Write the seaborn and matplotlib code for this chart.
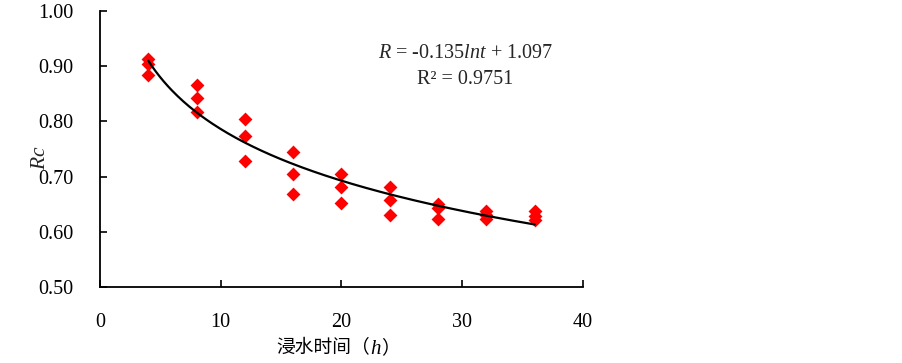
import numpy as np
import pandas as pd
import matplotlib
matplotlib.use("Agg")
import matplotlib.pyplot as plt
import seaborn as sns
from matplotlib.offsetbox import TextArea, HPacker, AnchoredOffsetbox

# Data
hours = [4, 4, 4, 8, 8, 8, 12, 12, 12, 16, 16, 16, 20, 20, 20,
         24, 24, 24, 28, 28, 28, 32, 32, 32, 36, 36, 36]
rc = [0.913, 0.904, 0.884, 0.866, 0.842, 0.817, 0.805, 0.774, 0.729,
      0.744, 0.705, 0.669, 0.705, 0.681, 0.653, 0.681, 0.658, 0.630,
      0.651, 0.644, 0.624, 0.637, 0.630, 0.623, 0.637, 0.629, 0.622]
coef_a = -0.135
coef_b = 1.097
fit_t = np.linspace(4, 36, 200)
fit_r = coef_a * np.log(fit_t) + coef_b

x_ticks = [0, 10, 20, 30, 40]
y_ticks = [0.50, 0.60, 0.70, 0.80, 0.90, 1.00]

sns.set_style("white")
plt.rcParams['font.family'] = ['Liberation Serif', 'Noto Sans CJK SC']
plt.rcParams['mathtext.fontset'] = 'custom'
plt.rcParams['mathtext.it'] = 'Liberation Serif:italic'
plt.rcParams['mathtext.rm'] = 'Liberation Serif'

fig = plt.figure(figsize=(9.03, 3.63), dpi=100)
ax = fig.add_axes([100/903, 1 - 287/363, 483/903, 276/363])

df = pd.DataFrame({"t": hours, "rc": rc})
fit = pd.DataFrame({"t": fit_t, "r": fit_r})
sns.lineplot(data=fit, x="t", y="r", ax=ax, color="black", linewidth=1.6, zorder=3)
sns.scatterplot(data=df, x="t", y="rc", ax=ax, marker="D", s=50, color="#ff0000",
                linewidth=0, zorder=2)

ax.set_xlim(0, 40)
ax.set_ylim(0.5, 1.0)
ax.set_xticks(x_ticks)
ax.set_yticks(y_ticks)
ax.set_yticklabels([f"{v:.2f}" for v in y_ticks])
ax.tick_params(axis='both', direction='in', length=5, width=1.2, labelsize=14.5,
               colors='black', bottom=True, left=True)
ax.tick_params(axis='x', pad=19)
ax.tick_params(axis='y', pad=19)
for s in ['top', 'right']:
    ax.spines[s].set_visible(False)
for s in ['left', 'bottom']:
    ax.spines[s].set_color('black')
    ax.spines[s].set_linewidth(1.3)

ax.set_xlabel("")
ax.set_ylabel("$\\it{Rc}$", fontsize=15.5)
ax.yaxis.set_label_coords(-0.104, 0.47)

# x label: Chinese text with italic h
t1 = TextArea("浸水时间（", textprops=dict(family='Noto Sans CJK SC', size=13.5, color='black'))
t2 = TextArea("h", textprops=dict(family='Liberation Serif', style='italic', size=15, color='black'))
t3 = TextArea("）", textprops=dict(family='Noto Sans CJK SC', size=13.5, color='black'))
box = HPacker(children=[t1, t2, t3], align="baseline", pad=0, sep=0)
anch = AnchoredOffsetbox(loc='center', child=box, frameon=False, pad=0, borderpad=0,
                         bbox_to_anchor=(338/903, 1 - 348/363),
                         bbox_transform=fig.transFigure)
fig.add_artist(anch)

ax.text(0.756, 0.845, "$\\it{R}$ = -0.135$\\it{lnt}$ + 1.097", transform=ax.transAxes,
        ha='center', va='center', fontsize=14.5)
ax.text(0.756, 0.752, "R² = 0.9751", transform=ax.transAxes,
        ha='center', va='center', fontsize=14.5)

fig.savefig("out.png", dpi=100)
